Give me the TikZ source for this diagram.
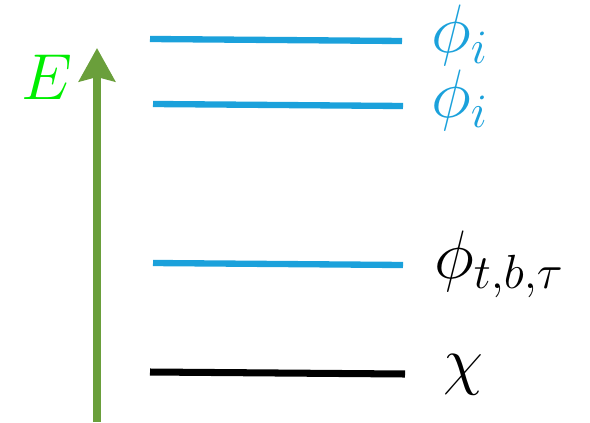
\RequirePackage{fix-cm}
\documentclass[tikz,border=0pt]{standalone}
\usepackage{amsmath}
\usetikzlibrary{arrows.meta}
\definecolor{levelblue}{HTML}{1BA1DB}
\definecolor{arrowgreen}{HTML}{6A9F3B}
\definecolor{egreen}{HTML}{00EE00}
\tikzset{
  level/.style={line width=3.6pt},
  lab/.style={anchor=base west, inner sep=0pt, font=\fontsize{39}{44}\selectfont},
}
\begin{document}
\begin{tikzpicture}[>=latex, x=0.02cm, y=-0.02cm]
\useasboundingbox (0,0) rectangle (590,422);
% energy axis
\coordinate (ebot) at (97,422);
\coordinate (etop) at (97,48);
\draw[arrowgreen, line width=4.5pt, -{Stealth[length=19pt, width=20.5pt, inset=2.5pt]}] (ebot) -- (etop);
\node[lab, text=egreen, font=\fontsize{37}{42}\selectfont] (elab) at (21,100) {$E$};
% levels
\draw[level, levelblue] (150,39) -- (402,41) node[lab, text=levelblue] (phia) at (428,53) {$\phi_i$};
\draw[level, levelblue] (153,104) -- (403,106) node[lab, text=levelblue] (phib) at (428,117) {$\phi_i$};
\draw[level, levelblue] (153,263) -- (403,265) node[lab, text=black] (phic) at (431,278) {$\phi_{t,b,\tau}$};
\draw[level, black, line width=4pt] (150,372) -- (405,374) node[lab, font=\fontsize{37}{42}\selectfont] (chi) at (440,382) {$\chi$};
\end{tikzpicture}
\end{document}
